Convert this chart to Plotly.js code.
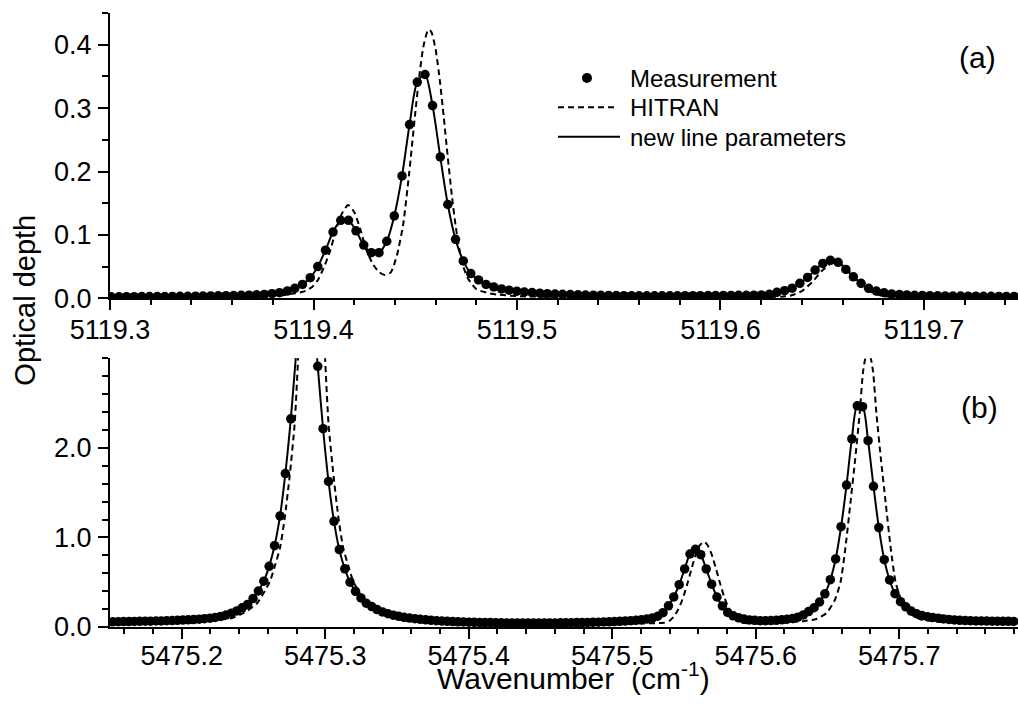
<!DOCTYPE html>
<html>
<head>
<meta charset="utf-8">
<script src="https://cdn.plot.ly/plotly-3.0.1.min.js"></script>
<style>html,body{margin:0;padding:0;background:#fff;}#chart{width:1018px;height:715px;}</style>
</head>
<body>
<div id="chart"></div>
<script>
// ---------- Panel (a): 5119 cm-1 region ----------
const measTopX = [5119.3006,5119.3044,5119.3081,5119.3119,5119.3156,5119.3194,5119.3232,5119.3269,5119.3307,5119.3344,
5119.3382,5119.3420,5119.3457,5119.3495,5119.3532,5119.3570,5119.3608,5119.3645,5119.3683,5119.3720,
5119.3758,5119.3796,5119.3833,5119.3871,5119.3908,5119.3946,5119.3984,5119.4021,5119.4059,5119.4096,
5119.4134,5119.4172,5119.4209,5119.4247,5119.4284,5119.4322,5119.4360,5119.4397,5119.4435,5119.4472,
5119.4510,5119.4548,5119.4585,5119.4623,5119.4660,5119.4698,5119.4736,5119.4773,5119.4811,5119.4848,
5119.4886,5119.4924,5119.4961,5119.4999,5119.5036,5119.5074,5119.5112,5119.5149,5119.5187,5119.5224,
5119.5262,5119.5300,5119.5337,5119.5375,5119.5412,5119.5450,5119.5488,5119.5525,5119.5563,5119.5600,
5119.5638,5119.5676,5119.5713,5119.5751,5119.5788,5119.5826,5119.5864,5119.5901,5119.5939,5119.5976,
5119.6014,5119.6052,5119.6089,5119.6127,5119.6164,5119.6202,5119.6240,5119.6277,5119.6315,5119.6352,
5119.6390,5119.6428,5119.6465,5119.6503,5119.6540,5119.6578,5119.6616,5119.6653,5119.6691,5119.6728,
5119.6766,5119.6804,5119.6841,5119.6879,5119.6916,5119.6954,5119.6992,5119.7029,5119.7067,5119.7104,
5119.7142,5119.7180,5119.7217,5119.7255,5119.7292,5119.7330,5119.7368,5119.7405,5119.7443];
const measTopY = [0.0025,0.0025,0.0026,0.0026,0.0027,0.0027,0.0028,0.0029,0.0030,0.0031,
0.0032,0.0033,0.0035,0.0037,0.0039,0.0041,0.0044,0.0047,0.0050,0.0055,
0.0062,0.0074,0.0089,0.0115,0.0157,0.022,0.0325,0.050,0.076,0.1045,
0.123,0.123,0.1065,0.084,0.072,0.072,0.090,0.130,0.193,0.274,
0.341,0.353,0.304,0.223,0.148,0.093,0.059,0.039,0.029,0.022,
0.018,0.0148,0.0128,0.0113,0.0100,0.0090,0.0081,0.0074,0.0068,0.0063,
0.0059,0.0055,0.0052,0.0049,0.0047,0.0045,0.0043,0.0042,0.0041,0.0040,
0.0040,0.0040,0.0040,0.0040,0.0040,0.0041,0.0041,0.0042,0.0043,0.0044,
0.0045,0.0046,0.0047,0.0048,0.0050,0.0053,0.0063,0.0094,0.0120,0.0160,
0.0236,0.033,0.0446,0.055,0.060,0.0567,0.0456,0.034,0.0236,0.0157,
0.0115,0.0088,0.0070,0.0060,0.0053,0.0048,0.0045,0.0042,0.0040,0.0038,
0.0036,0.0035,0.0034,0.0033,0.0032,0.0031,0.0030,0.0030,0.0030];
// new line parameters (fit) follows the measurement
const fitTopX = measTopX;
const fitTopY = measTopY;
const hitranTopX = [5119.300,5119.330,5119.360,5119.375,5119.385,5119.390,5119.395,5119.399,5119.402,5119.405,
5119.408,5119.411,5119.414,5119.417,5119.420,5119.423,5119.426,5119.429,5119.432,5119.435,
5119.438,5119.441,5119.444,5119.447,5119.450,5119.452,5119.454,5119.456,5119.457,5119.458,
5119.460,5119.462,5119.464,5119.466,5119.468,5119.470,5119.473,5119.476,5119.480,5119.485,
5119.490,5119.500,5119.520,5119.550,5119.600,5119.620,5119.630,5119.635,5119.640,5119.645,
5119.650,5119.655,5119.6565,5119.660,5119.665,5119.670,5119.675,5119.680,5119.690,5119.710,5119.746];
const hitranTopY = [0.0015,0.0017,0.0022,0.0030,0.0050,0.0075,0.0105,0.017,0.028,0.048,
0.073,0.107,0.134,0.147,0.136,0.109,0.076,0.055,0.042,0.0367,
0.041,0.068,0.115,0.197,0.292,0.351,0.397,0.421,0.4236,0.4196,
0.393,0.346,0.286,0.222,0.162,0.111,0.056,0.031,0.0146,0.009,
0.006,0.0035,0.0022,0.0016,0.0018,0.0022,0.0026,0.0048,0.0115,0.0254,
0.0439,0.0562,0.0570,0.0528,0.0365,0.0190,0.0080,0.0036,0.0022,0.0020,0.0018];

// ---------- Panel (b): 5475 cm-1 region ----------
const measBotX = [5475.1519,5475.1557,5475.1594,5475.1632,5475.1669,5475.1707,5475.1745,5475.1782,5475.1820,5475.1857,
5475.1895,5475.1933,5475.1970,5475.2008,5475.2045,5475.2083,5475.2121,5475.2158,5475.2196,5475.2233,
5475.2271,5475.2309,5475.2346,5475.2384,5475.2421,5475.2459,5475.2497,5475.2534,5475.2572,5475.2609,
5475.2647,5475.2685,5475.2722,5475.2760,5475.2797,5475.2835,5475.2873,5475.2910,5475.2948,5475.2985,
5475.3023,5475.3061,5475.3098,5475.3136,5475.3173,5475.3211,5475.3249,5475.3286,5475.3324,5475.3361,
5475.3399,5475.3437,5475.3474,5475.3512,5475.3549,5475.3587,5475.3625,5475.3662,5475.3700,5475.3737,
5475.3775,5475.3813,5475.3850,5475.3888,5475.3925,5475.3963,5475.4001,5475.4038,5475.4076,5475.4113,
5475.4151,5475.4189,5475.4226,5475.4264,5475.4301,5475.4339,5475.4377,5475.4414,5475.4452,5475.4489,
5475.4527,5475.4565,5475.4602,5475.4640,5475.4677,5475.4715,5475.4753,5475.4790,5475.4828,5475.4865,
5475.4903,5475.4941,5475.4978,5475.5016,5475.5053,5475.5091,5475.5129,5475.5166,5475.5204,5475.5241,
5475.5279,5475.5317,5475.5354,5475.5392,5475.5429,5475.5467,5475.5505,5475.5542,5475.5580,5475.5617,
5475.5655,5475.5693,5475.5730,5475.5768,5475.5805,5475.5843,5475.5881,5475.5918,5475.5956,5475.5993,
5475.6031,5475.6069,5475.6106,5475.6144,5475.6181,5475.6219,5475.6257,5475.6294,5475.6332,5475.6369,
5475.6407,5475.6445,5475.6482,5475.6520,5475.6557,5475.6595,5475.6633,5475.6670,5475.6708,5475.6745,
5475.6783,5475.6821,5475.6858,5475.6896,5475.6933,5475.6971,5475.7009,5475.7046,5475.7084,5475.7121,
5475.7159,5475.7197,5475.7234,5475.7272,5475.7309,5475.7347,5475.7385,5475.7422,5475.7460,5475.7497,
5475.7535,5475.7573,5475.7610,5475.7648,5475.7685,5475.7723,5475.7761,5475.7798];
const measBotY = [0.058,0.059,0.060,0.061,0.062,0.063,0.064,0.065,0.067,0.068,
0.070,0.072,0.074,0.077,0.080,0.083,0.087,0.092,0.098,0.106,
0.118,0.134,0.154,0.180,0.214,0.252,0.318,0.402,0.512,0.677,
0.908,1.240,1.713,2.324,3.05,3.78,4.06,3.67,2.910,2.214,
1.625,1.180,0.864,0.650,0.500,0.398,0.324,0.265,0.228,0.195,
0.168,0.148,0.132,0.119,0.108,0.100,0.093,0.086,0.080,0.075,
0.070,0.066,0.063,0.060,0.058,0.056,0.054,0.052,0.051,0.050,
0.049,0.048,0.047,0.046,0.046,0.045,0.045,0.045,0.045,0.045,
0.045,0.046,0.046,0.047,0.047,0.048,0.049,0.050,0.051,0.052,
0.054,0.056,0.058,0.060,0.063,0.066,0.070,0.075,0.081,0.089,
0.100,0.120,0.160,0.236,0.336,0.473,0.648,0.815,0.868,0.808,
0.648,0.478,0.335,0.235,0.163,0.125,0.102,0.088,0.079,0.074,
0.071,0.071,0.072,0.075,0.080,0.087,0.096,0.110,0.135,0.172,
0.215,0.279,0.370,0.528,0.760,1.120,1.585,2.100,2.470,2.460,
2.080,1.571,1.110,0.752,0.525,0.372,0.283,0.225,0.178,0.148,
0.128,0.115,0.106,0.098,0.090,0.084,0.079,0.075,0.072,0.070,
0.068,0.067,0.066,0.065,0.064,0.063,0.063,0.062];
const fitBotX = measBotX;
const fitBotY = measBotY;
const hitranBotX = [5475.150,5475.180,5475.210,5475.225,5475.235,5475.2435,5475.2522,5475.2580,5475.2615,5475.2645,
5475.2685,5475.2717,5475.2751,5475.2787,5475.2811,5475.2835,5475.2865,5475.2905,5475.2945,5475.2975,
5475.2999,5475.3023,5475.3059,5475.3093,5475.3125,5475.3165,5475.3195,5475.3230,5475.3288,5475.3375,
5475.345,5475.360,5475.380,5475.410,5475.450,5475.490,5475.520,5475.530,5475.536,5475.540,
5475.543,5475.546,5475.549,5475.552,5475.555,5475.558,5475.561,5475.5638,5475.566,5475.569,
5475.572,5475.575,5475.578,5475.581,5475.584,5475.587,5475.590,5475.595,5475.605,5475.618,
5475.6283,5475.6333,5475.6423,5475.6493,5475.6551,5475.6591,5475.6625,5475.6659,5475.6693,5475.6725,
5475.6748,5475.6764,5475.6783,5475.6802,5475.6818,5475.6841,5475.6873,5475.6907,5475.6941,5475.6975,
5475.7015,5475.7073,5475.7143,5475.7233,5475.7383,5475.760,5475.783];
const hitranBotY = [0.045,0.050,0.062,0.078,0.100,0.160,0.26,0.405,0.510,0.660,
0.885,1.21,1.67,2.27,3.0,3.8,4.6,5.0,4.6,3.8,
3.0,2.27,1.67,1.21,0.885,0.66,0.51,0.405,0.26,0.16,
0.12,0.085,0.062,0.050,0.043,0.040,0.040,0.042,0.048,0.072,
0.118,0.195,0.310,0.462,0.634,0.796,0.912,0.950,0.926,0.824,
0.669,0.496,0.338,0.215,0.130,0.080,0.052,0.042,0.040,0.045,
0.058,0.065,0.090,0.155,0.300,0.500,0.880,1.370,1.870,2.390,
2.850,3.000,3.080,3.000,2.850,2.390,1.870,1.370,0.880,0.500,
0.300,0.155,0.090,0.065,0.050,0.045,0.042];

// ---------- ticks & labels ----------
const xTopTicks = [5119.3,5119.4,5119.5,5119.6,5119.7];
const xTopLabels = ['5119.3','5119.4','5119.5','5119.6','5119.7'];
const xBotTicks = [5475.2,5475.3,5475.4,5475.5,5475.6,5475.7];
const xBotLabels = ['5475.2','5475.3','5475.4','5475.5','5475.6','5475.7'];
const yTopTicks = [0,0.1,0.2,0.3,0.4];
const yTopLabels = ['0.0','0.1','0.2','0.3','0.4'];
const yBotTicks = [0,1,2];
const yBotLabels = ['0.0','1.0','2.0'];
const seriesNames = ['Measurement','HITRAN','new line parameters'];

const FONT = 'Liberation Sans, Arial, Helvetica, sans-serif';
const K = '#000000';

function dashed(x, y, xa, ya) {
  return {x:x, y:y, xaxis:xa, yaxis:ya, type:'scatter', mode:'lines', name:seriesNames[1],
    line:{color:K, width:2, dash:'6px,4px', shape:'spline', smoothing:0.6}, hoverinfo:'skip'};
}
function solid(x, y, xa, ya) {
  return {x:x, y:y, xaxis:xa, yaxis:ya, type:'scatter', mode:'lines', name:seriesNames[2],
    line:{color:K, width:2, shape:'spline', smoothing:0.8}, hoverinfo:'skip'};
}
function points(x, y, xa, ya) {
  return {x:x, y:y, xaxis:xa, yaxis:ya, type:'scatter', mode:'markers', name:seriesNames[0],
    marker:{color:K, size:9.5, symbol:'circle', line:{width:0}}, hoverinfo:'skip'};
}

const traces = [
  dashed(hitranTopX, hitranTopY, 'x', 'y'),
  solid(fitTopX, fitTopY, 'x', 'y'),
  points(measTopX, measTopY, 'x', 'y'),
  dashed(hitranBotX, hitranBotY, 'x2', 'y2'),
  solid(fitBotX, fitBotY, 'x2', 'y2'),
  points(measBotX, measBotY, 'x2', 'y2')
];

const tickFont = {family:FONT, size:27, color:K};
const TOP_DOM = [0.5353, 1];
const BOT_DOM = [0, 0.4376];
const xTopRange = [5119.3, 5119.7462];
const xBotRange = [5475.15, 5475.7828];
const yTopRange = [0, 0.45];
const yBotRange = [0, 3.0];

function baseAxis(extra) {
  return Object.assign({showgrid:false, zeroline:false, showline:true, linewidth:2, linecolor:K,
    tickcolor:K, tickwidth:2, tickfont:tickFont, fixedrange:true}, extra);
}

const layout = {
  width:1018, height:715,
  margin:{l:110, r:0, t:13, b:88, pad:0},
  paper_bgcolor:'#ffffff', plot_bgcolor:'#ffffff',
  showlegend:false,
  font:{family:FONT, color:K},
  xaxis: baseAxis({domain:[0,1], anchor:'y', range:xTopRange, tickmode:'array', tickvals:xTopTicks, ticktext:xTopLabels,
    ticks:'outside', ticklen:10, ticklabelstandoff:-4,
    minor:{tickmode:'linear', tick0:5119.3, dtick:0.02, ticks:'outside', ticklen:5, tickwidth:2, tickcolor:K, showgrid:false}}),
  xaxis3: baseAxis({overlaying:'x', side:'top', anchor:'y', range:xTopRange, tickmode:'array', tickvals:xTopTicks,
    showticklabels:false, ticks:'inside', ticklen:10,
    minor:{tickmode:'linear', tick0:5119.3, dtick:0.02, ticks:'inside', ticklen:5, tickwidth:2, tickcolor:K, showgrid:false}}),
  yaxis: baseAxis({domain:TOP_DOM, anchor:'x', range:yTopRange, tickmode:'array', tickvals:yTopTicks, ticktext:yTopLabels,
    ticks:'outside', ticklen:10, ticklabelstandoff:1,
    minor:{tickmode:'linear', tick0:0, dtick:0.05, ticks:'outside', ticklen:6, tickwidth:2, tickcolor:K, showgrid:false}}),
  yaxis3: baseAxis({overlaying:'y', side:'right', anchor:'x', range:yTopRange, tickmode:'array', tickvals:yTopTicks,
    showticklabels:false, showline:false, ticks:'inside', ticklen:5}),
  xaxis2: baseAxis({domain:[0,1], anchor:'y2', range:xBotRange, tickmode:'array', tickvals:xBotTicks, ticktext:xBotLabels,
    ticks:'outside', ticklen:10, ticklabelstandoff:-6,
    minor:{tickmode:'linear', tick0:5475.2, dtick:0.02, ticks:'outside', ticklen:5, tickwidth:2, tickcolor:K, showgrid:false}}),
  xaxis4: baseAxis({overlaying:'x2', side:'top', anchor:'y2', range:xBotRange, tickmode:'array', tickvals:xBotTicks,
    showticklabels:false, ticks:'inside', ticklen:10,
    minor:{tickmode:'linear', tick0:5475.2, dtick:0.02, ticks:'inside', ticklen:5, tickwidth:2, tickcolor:K, showgrid:false}}),
  yaxis2: baseAxis({domain:BOT_DOM, anchor:'x2', range:yBotRange, tickmode:'array', tickvals:yBotTicks, ticktext:yBotLabels,
    ticks:'outside', ticklen:10, ticklabelstandoff:1,
    minor:{tickmode:'linear', tick0:0, dtick:0.2, ticks:'outside', ticklen:6, tickwidth:2, tickcolor:K, showgrid:false}}),
  yaxis4: baseAxis({overlaying:'y2', side:'right', anchor:'x2', range:yBotRange, tickmode:'array', tickvals:yBotTicks,
    showticklabels:false, showline:false, ticks:'inside', ticklen:5}),
  annotations: [
    {text:'Optical depth', xref:'paper', yref:'paper', x:-0.094, y:0.5326, xanchor:'center', yanchor:'middle',
      textangle:-90, showarrow:false, font:{family:FONT, size:29, color:K}},
    {text:'Wavenumber\u00a0 (cm<sup>-1</sup>)', xref:'paper', yref:'paper', x:0.511, y:-0.045, xanchor:'center', yanchor:'top',
      showarrow:false, font:{family:FONT, size:30, color:K}},
    {text:'(a)', xref:'paper', yref:'paper', x:0.9554, y:0.9283, xanchor:'center', yanchor:'middle',
      showarrow:false, font:{family:FONT, size:30, color:K}},
    {text:'(b)', xref:'paper', yref:'paper', x:0.9581, y:0.3567, xanchor:'center', yanchor:'middle',
      showarrow:false, font:{family:FONT, size:30, color:K}},
    {text:seriesNames[0], xref:'paper', yref:'paper', x:0.5705, y:0.8941, xanchor:'left', yanchor:'middle',
      showarrow:false, font:{family:FONT, size:24, color:K}},
    {text:seriesNames[1], xref:'paper', yref:'paper', x:0.5705, y:0.8461, xanchor:'left', yanchor:'middle',
      showarrow:false, font:{family:FONT, size:24, color:K}},
    {text:seriesNames[2], xref:'paper', yref:'paper', x:0.5705, y:0.798, xanchor:'left', yanchor:'middle',
      showarrow:false, font:{family:FONT, size:24, color:K}}
  ],
  shapes: [
    {type:'circle', xref:'paper', yref:'paper', xsizemode:'pixel', ysizemode:'pixel',
      xanchor:0.5253, yanchor:0.8941, x0:-5, x1:5, y0:-5, y1:5, fillcolor:K, line:{width:0}},
    {type:'line', xref:'paper', yref:'paper', x0:0.4934, x1:0.5595, y0:0.8464, y1:0.8464,
      line:{color:K, width:2, dash:'6px,4px'}},
    {type:'line', xref:'paper', yref:'paper', x0:0.4934, x1:0.5617, y0:0.7985, y1:0.7985,
      line:{color:K, width:2}}
  ]
};

Plotly.newPlot('chart', traces, layout, {displayModeBar:false, staticPlot:true});
</script>
</body>
</html>
